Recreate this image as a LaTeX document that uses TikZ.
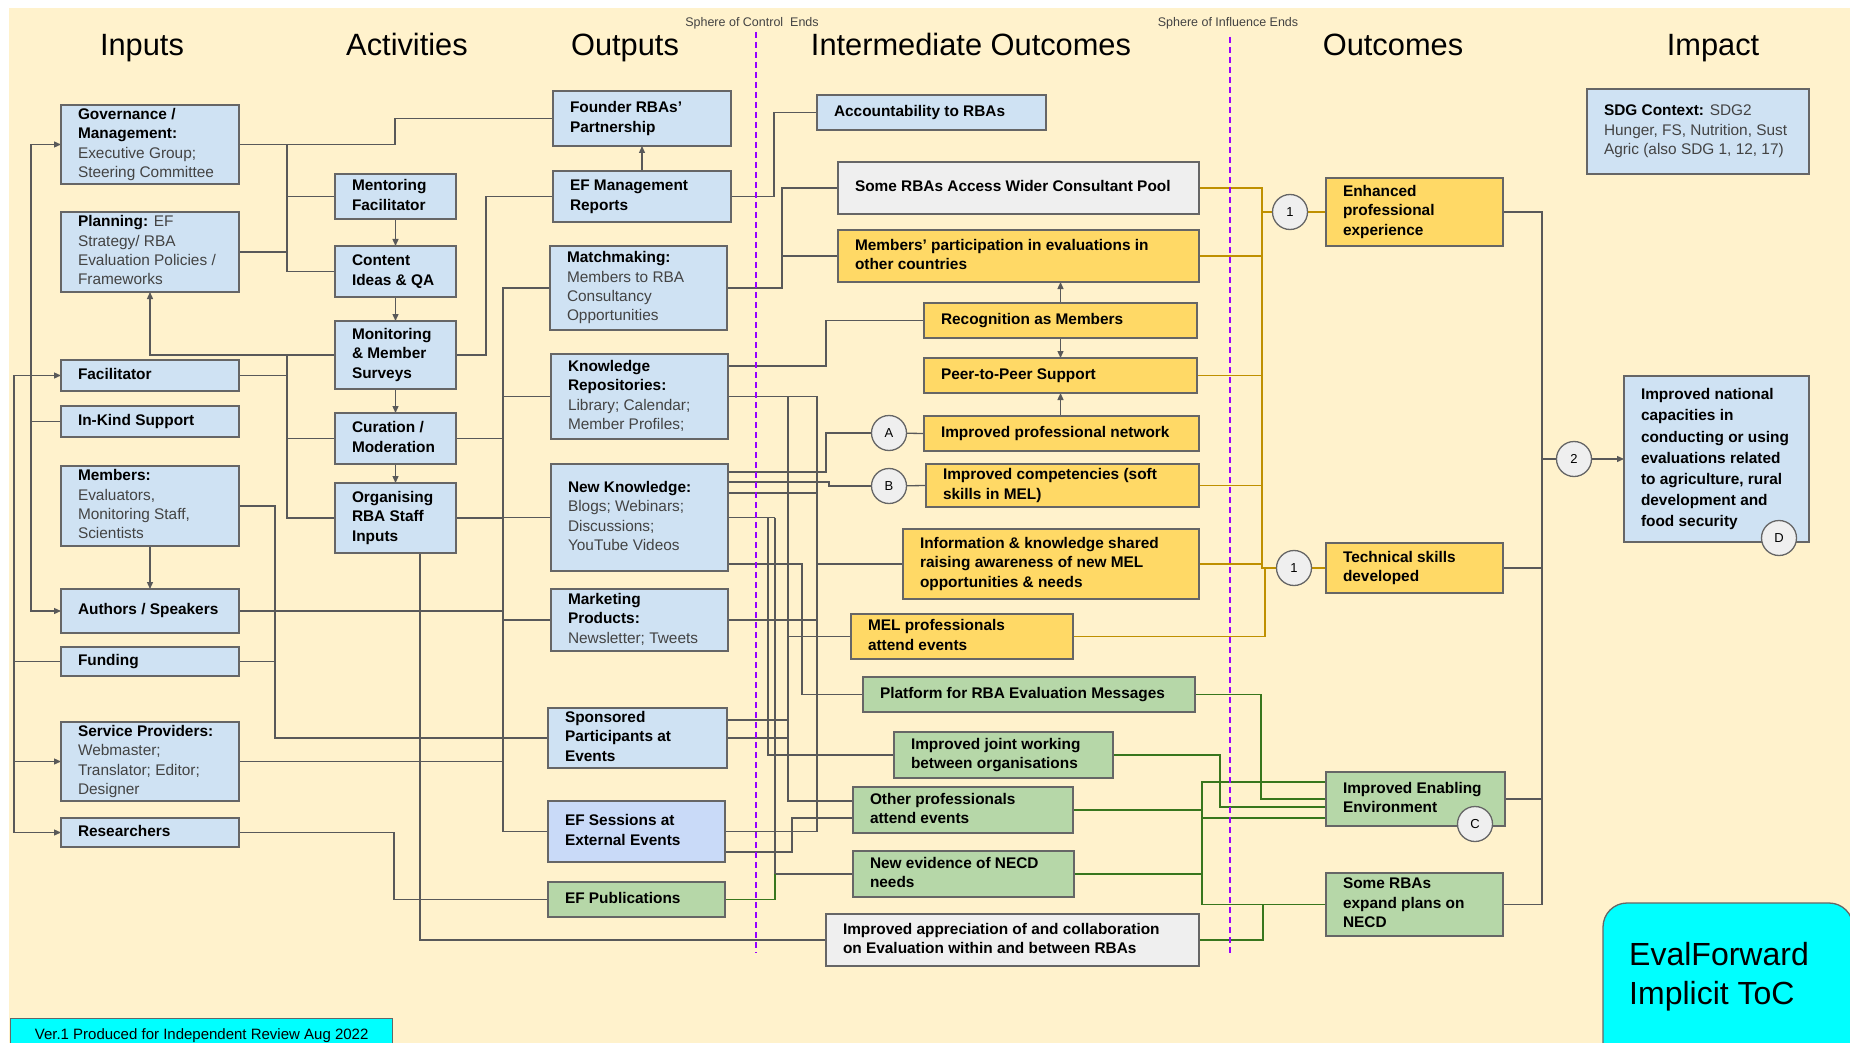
\documentclass[tikz,border=0pt]{standalone}
\usepackage{fontspec}
\setmainfont{Liberation Sans}
\usetikzlibrary{arrows.meta}
\definecolor{cream}{HTML}{FFF2CC}
\definecolor{boxblue}{HTML}{CFE2F3}
\definecolor{boxyel}{HTML}{FFD966}
\definecolor{boxgrn}{HTML}{B6D7A8}
\definecolor{boxgry}{HTML}{EFEFEF}
\definecolor{boxlav}{HTML}{C9DAF8}
\definecolor{circgrey}{HTML}{EFEFEF}
\definecolor{bordergrey}{HTML}{666666}
\definecolor{linegrey}{HTML}{595959}
\definecolor{linegold}{HTML}{BF9000}
\definecolor{linegreen}{HTML}{38761D}
\definecolor{divpurple}{HTML}{9900FF}
\definecolor{cyanbox}{HTML}{00FFFF}
\definecolor{txtg}{HTML}{434343}
\pgfdeclarelayer{bgl}
\pgfdeclarelayer{wires}
\pgfsetlayers{bgl,wires,main}
\newcommand{\mklt}[1]{{\mdseries\color{txtg}#1}}
\newcommand{\mkbox}[7]{%
 \pgfmathsetmacro{\mkbw}{#5-#3}%
 \pgfmathsetmacro{\mkbh}{#6-#4}%
 \pgfmathsetmacro{\mktw}{#5-#3-34}%
 \node[box,#2,anchor=north west,minimum width=\mkbw pt,minimum height=\mkbh pt] (#1) at (#3,#4)
   {\makebox[\mktw pt][l]{\begin{tabular}{@{}l@{}}#7\end{tabular}}};}
\begin{document}
\begin{tikzpicture}[x=1pt,y=-1pt,
  box/.style={draw=bordergrey,line width=1.3pt,fill=boxblue,inner sep=0pt,outer sep=0pt,font=\fontsize{15.4}{19.4}\selectfont\bfseries},
  yel/.style={fill=boxyel}, grn/.style={fill=boxgrn}, gry/.style={fill=boxgry}, lav/.style={fill=boxlav},
  wire/.style={draw=linegrey,line width=1.3pt},
  arr/.style={wire,-{Triangle[length=7pt,width=6pt]}},
  goldw/.style={draw=linegold,line width=1.3pt},
  gln/.style={draw=linegreen,line width=1.3pt},
  circ/.style={circle,draw=bordergrey,line width=1.3pt,fill=circgrey,minimum size=35pt,inner sep=0pt,font=\fontsize{13}{13}\selectfont},
  hdr/.style={anchor=base,inner sep=0pt,font=\fontsize{30.8}{31}\selectfont},
  sphere/.style={anchor=base,inner sep=0pt,font=\fontsize{12.5}{14}\selectfont,text=txtg},
  divider/.style={draw=divpurple,line width=1.6pt,dash pattern=on 6pt off 4pt}
]
\useasboundingbox (0,0) rectangle (1850,1043);
\begin{pgfonlayer}{bgl}
\fill[white] (0,0) rectangle (1850,1043);
\fill[cream] (9,8) rectangle (1850,1043);
\end{pgfonlayer}

% headers
\node[hdr] (hInputs) at (142,56) {Inputs};
\node[hdr] (hAct) at (407,56) {Activities};
\node[hdr] (hOut) at (625,56) {Outputs};
\node[hdr] (hInt) at (971,56) {Intermediate Outcomes};
\node[hdr] (hOutc) at (1393,56) {Outcomes};
\node[hdr] (hImp) at (1713,56) {Impact};
\node[sphere] (sCtrl) at (752,27) {Sphere of Control\ \ Ends};
\node[sphere] (sInfl) at (1228,27) {Sphere of Influence Ends};

% Inputs
\mkbox{gov}{}{61}{105}{239}{184}{Governance /\\Management:\\\mklt{Executive Group;}\\\mklt{Steering Committee}}
\mkbox{plan}{}{61}{212}{239}{292}{Planning: \mklt{EF}\\\mklt{Strategy/ RBA}\\\mklt{Evaluation Policies /}\\\mklt{Frameworks}}
\mkbox{fac}{}{61}{360}{239}{391}{Facilitator}
\mkbox{ink}{}{61}{406}{239}{437}{In-Kind Support}
\mkbox{mem}{}{61}{466}{239}{546}{Members:\\\mklt{Evaluators,}\\\mklt{Monitoring Staff,}\\\mklt{Scientists}}
\mkbox{auth}{}{61}{589}{239}{633}{Authors / Speakers}
\mkbox{fund}{}{61}{647}{239}{676}{Funding}
\mkbox{serv}{}{61}{722}{239}{801}{Service Providers:\\\mklt{Webmaster;}\\\mklt{Translator; Editor;}\\\mklt{Designer}}
\mkbox{res}{}{61}{818}{239}{847}{Researchers}

% Activities
\mkbox{ment}{}{335}{174}{456}{219}{Mentoring\\Facilitator}
\mkbox{cont}{}{335}{246}{456}{297}{Content\\Ideas \& QA}
\mkbox{moni}{}{335}{321}{456}{389}{Monitoring\\\& Member\\Surveys}
\mkbox{cur}{}{335}{413}{456}{464}{Curation /\\Moderation}
\mkbox{org}{}{335}{483}{456}{553}{Organising\\RBA Staff\\Inputs}

% Outputs
\mkbox{found}{}{553}{91}{731}{146}{Founder RBAs'\\Partnership}
\mkbox{efm}{}{553}{171}{731}{222}{EF Management\\Reports}
\mkbox{match}{}{550}{246}{727}{330}{Matchmaking:\\\mklt{Members to RBA}\\\mklt{Consultancy}\\\mklt{Opportunities}}
\mkbox{kr}{}{551}{354}{728}{439}{Knowledge\\Repositories:\\\mklt{Library; Calendar;}\\\mklt{Member Profiles;}}
\mkbox{nk}{}{551}{464}{728}{571}{New Knowledge:\\\mklt{Blogs; Webinars;}\\\mklt{Discussions;}\\\mklt{YouTube Videos}}
\mkbox{mkt}{}{551}{589}{728}{651}{Marketing\\Products:\\\mklt{Newsletter; Tweets}}
\mkbox{spon}{}{548}{708}{727}{768}{Sponsored\\Participants at\\Events}
\mkbox{efs}{lav}{548}{801}{725}{862}{EF Sessions at\\External Events}
\mkbox{efp}{grn}{548}{882}{725}{917}{EF Publications}

% Intermediate outcomes
\mkbox{acc}{}{817}{95}{1046}{130}{Accountability to RBAs}
\mkbox{pool}{gry}{838}{162}{1199}{214}{Some RBAs Access Wider Consultant Pool}
\mkbox{part}{yel}{838}{230}{1199}{282}{Members' participation in evaluations in\\other countries}
\mkbox{rec}{yel}{924}{303}{1197}{338}{Recognition as Members}
\mkbox{peer}{yel}{924}{358}{1197}{393}{Peer-to-Peer Support}
\mkbox{net}{yel}{924}{416}{1199}{451}{Improved professional network}
\mkbox{comp}{yel}{926}{464}{1199}{507}{Improved competencies (soft\\skills in MEL)}
\mkbox{info}{yel}{903}{529}{1199}{599}{Information \& knowledge shared\\raising awareness of new MEL\\opportunities \& needs}
\mkbox{melp}{yel}{851}{614}{1073}{659}{MEL professionals\\attend events}
\mkbox{plat}{grn}{863}{677}{1195}{712}{Platform for RBA Evaluation Messages}
\mkbox{joint}{grn}{894}{732}{1113}{778}{Improved joint working\\between organisations}
\mkbox{oth}{grn}{853}{787}{1073}{833}{Other professionals\\attend events}
\mkbox{nev}{grn}{853}{851}{1074}{897}{New evidence of NECD\\needs}
\mkbox{appr}{gry}{826}{914}{1199}{966}{Improved appreciation of and collaboration\\on Evaluation within and between RBAs}

% Outcomes
\mkbox{enh}{yel}{1326}{178}{1503}{246}{Enhanced\\professional\\experience}
\mkbox{tech}{yel}{1326}{543}{1503}{593}{Technical skills\\developed}
\mkbox{iee}{grn}{1326}{772}{1505}{826}{Improved Enabling\\Environment}
\mkbox{exp}{grn}{1326}{873}{1503}{936}{Some RBAs\\expand plans on\\NECD}

% Impact
\mkbox{sdg}{}{1587}{89}{1809}{174}{SDG Context: \mklt{SDG2}\\\mklt{Hunger, FS, Nutrition, Sust}\\\mklt{Agric (also SDG 1, 12, 17)}}
\mkbox{nat}{font=\fontsize{15.4}{21.2}\selectfont\bfseries}{1624}{376}{1809}{542}{Improved national\\capacities in\\conducting or using\\evaluations related\\to agriculture, rural\\development and\\food security}

% circles
\node[circ] (cA) at (889,433) {A};
\node[circ] (cB) at (889,486) {B};
\node[circ] (c1a) at (1290,212) {1};
\node[circ] (c1b) at (1294,568) {1};
\node[circ] (c2) at (1574,459) {2};
\node[circ] (cC) at (1475,824) {C};
\node[circ] (cD) at (1779,538) {D};

% dividers
\draw[divider] (756,32) -- (756,953);
\draw[divider] (1230,37) -- (1230,953);

% title box and footer
\draw[draw=bordergrey,line width=1.3pt,fill=cyanbox,rounded corners=24pt] (1603,1090) -- (1603,903) -- (1853,903) -- (1853,1090);
\node[anchor=base west,inner sep=0pt,font=\fontsize{32}{39}\selectfont] (evft) at (1629,965) {\begin{tabular}[t]{@{}l@{}}EvalForward\\Implicit ToC\end{tabular}};
\node[draw=bordergrey,fill=cyanbox,line width=1.3pt,anchor=north west,minimum width=382pt,minimum height=34pt,inner sep=0pt,font=\fontsize{15}{17}\selectfont] (foot) at (10,1018) {Ver.1 Produced for Independent Review Aug 2022};

\begin{pgfonlayer}{wires}
% In-Kind
\draw[wire] (ink.west) -- (31,421.5);
\draw[arr] (31,421.5) |- (gov.west);
\draw[arr] (31,421.5) |- (auth.west);
% Funding
\draw[wire] (fund.west) -- (14,661.5);
\draw[arr] (14,661.5) |- (fac.west);
\draw[arr] (14,661.5) |- (serv.west);
\draw[arr] (14,661.5) |- (res.west);
% Members
\draw[arr] (mem.south) -- (auth.north);
\draw[wire] (mem.east) -| (275,738) -- (spon.west);
\draw[wire] (fund.east) -- (275,661.5);
% Governance / Planning
\draw[wire] (gov.east) -- (395,144.5) |- (found.west);
\draw[wire] (287,144.5) |- (cont.west);
\draw[wire] (287,196.5) -- (ment.west);
\draw[wire] (plan.east) -- (287,252);
% Facilitator
\draw[wire] (fac.east) -- (287,375.5);
\draw[wire] (287,355) |- (org.west);
\draw[wire] (287,438.5) -- (cur.west);
\draw[arr] (moni.west) -| (plan.south);
% activity chain
\draw[arr] (ment.south) -- (cont.north);
\draw[arr] (cont.south) -- (moni.north);
\draw[arr] (moni.south) -- (cur.north);
\draw[arr] (cur.south) -- (org.north);
\draw[wire] (moni.east) -| (486,196.5) -- (efm.west);
% bus to outputs
\draw[wire] (match.west) -| (503,831.5) -- (efs.west);
\draw[wire] (503,396.5) -- (kr.west);
\draw[wire] (cur.east) -- (503,438.5);
\draw[wire] (org.east) -- (503,518);
\draw[wire] (503,517.5) -- (nk.west);
\draw[wire] (auth.east) -- (503,611);
\draw[wire] (503,620) -- (mkt.west);
\draw[wire] (serv.east) -- (503,761.5);
\draw[wire] (res.east) -| (394,899.5) -- (efp.west);
\draw[wire] (org.south -| 420,0) |- (appr.west);
% outputs to intermediate
\draw[arr] (efm.north) -- (found.south);
\draw[wire] (efm.east) -| (774,112.5) -- (acc.west);
\draw[wire] (match.east) -| (782,188) -- (pool.west);
\draw[wire] (782,256) -- (part.west);
\draw[wire] (kr.east |- 0,366) -| (826,320.5) -- (rec.west);
\draw[wire] (kr.east) -- (817,396.5) -- (817,831.5) -- (efs.east);
\draw[wire] (788,396.5) -- (788,801) -- (oth.west |- 0,801);
\draw[wire] (788,636.5) -- (melp.west);
\draw[wire] (spon.east |- 0,720) -- (788,720);
\draw[wire] (spon.east) -- (788,738);
\draw[wire] (efs.east |- 0,852) -| (792,818) -- (oth.west |- 0,818);
\draw[wire] (nk.east |- 0,472) -| (826,433) -- (cA);
\draw[wire] (nk.east |- 0,482) -| (829,486) -- (cB);
\draw[wire] (nk.east |- 0,493) -- (817,493);
\draw[wire] (nk.east) -- (775,517.5);
\draw[wire] (768,517.5) |- (joint.west);
\draw[wire] (775,517.5) |- (nev.west);
\draw[wire] (nk.east |- 0,564) -| (802,694.5) -- (plat.west);
\draw[wire] (mkt.east) -- (817,620);
\draw[wire] (817,564) -- (info.west);
\draw[gln] (efp.east) -| (775,874);
% intermediate internal
\draw[arr] (rec.north) -- (part.south -| rec.north);
\draw[arr] (rec.south) -- (peer.north -| rec.south);
\draw[arr] (net.north -| rec.north) -- (peer.south -| rec.north);
\draw[wire] (cA) -- (net.west);
\draw[wire] (cB) -- (comp.west);
% gold to outcomes
\draw[goldw] (pool.east) -- (1262,188) -- (1262,568) -- (1265,568) -- (1265,636.5) -- (melp.east);
\draw[goldw] (part.east) -- (1262,256);
\draw[goldw] (peer.east) -- (1262,375.5);
\draw[goldw] (comp.east) -- (1262,485.5);
\draw[goldw] (info.east) -- (1262,564);
\draw[goldw] (1262,212) -- (c1a) -- (enh.west);
\draw[goldw] (1262,568) -- (c1b) -- (tech.west);
% green to outcomes
\draw[gln] (plat.east) -| (1261,799) -- (iee.west |- 0,799);
\draw[gln] (joint.east) -| (1220,807) -- (iee.west |- 0,807);
\draw[gln] (oth.east) -- (1202,810);
\draw[gln] (iee.west |- 0,782) -- (1202,782) -- (1202,904.5) -- (exp.west);
\draw[gln] (1202,818) -- (iee.west |- 0,818);
\draw[gln] (nev.east) -- (1202,874);
\draw[gln] (appr.east) -| (1263,904.5);
% outcomes to impact
\draw[wire] (enh.east) -| (1542,904.5) -- (exp.east);
\draw[wire] (tech.east) -- (1542,568);
\draw[wire] (iee.east) -- (1542,799);
\draw[wire] (1542,459) -- (c2);
\draw[arr] (c2) -- (nat.west);
\end{pgfonlayer}
\end{tikzpicture}
\end{document}
